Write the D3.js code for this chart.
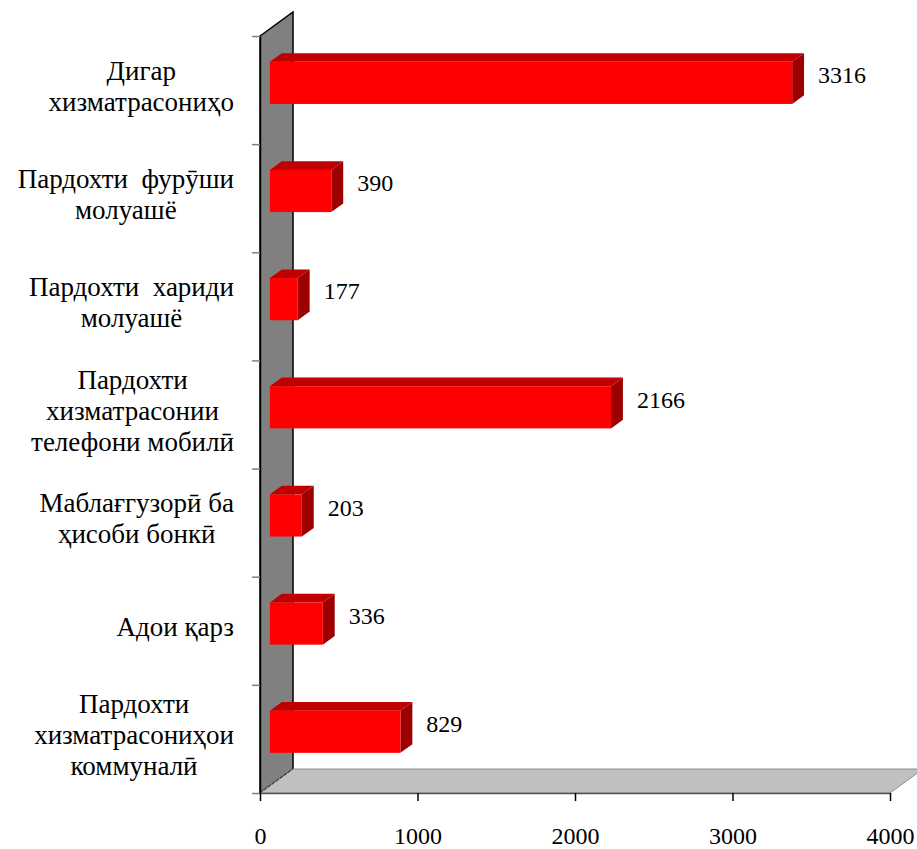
<!DOCTYPE html>
<html>
<head>
<meta charset="utf-8">
<script src="https://cdn.jsdelivr.net/npm/d3@7"></script>
<style>
  body { margin: 0; background: #fff; }
  svg { display: block; }
</style>
</head>
<body>
<div id="chart"></div>
<script>
// categories, top to bottom (each entry = wrapped lines)
const categories = [
  ["Дигар", "хизматрасониҳо"],
  ["Пардохти  фурӯши", "молуашё"],
  ["Пардохти  хариди", "молуашё"],
  ["Пардохти", "хизматрасонии", "телефони мобилӣ"],
  ["Маблағгузорӣ ба", "ҳисоби бонкӣ"],
  ["Адои қарз"],
  ["Пардохти", "хизматрасониҳои", "коммуналӣ"]
];
const values = [3316, 390, 177, 2166, 203, 336, 829];
const xTicks = [0, 1000, 2000, 3000, 4000];

const w = 917, h = 849;
const font = "'Liberation Serif', 'DejaVu Serif', serif";
const depth = { dx: 33, dy: -24 };   // 3d depth of the walls
const front = 0.3, back = 0.66;       // bar position inside the depth

const svg = d3.select("#chart").append("svg")
  .attr("width", w)
  .attr("height", h);

const x = d3.scaleLinear().domain([0, 4000]).range([260, 890]);
const y = d3.scaleBand().domain(d3.range(categories.length)).range([36, 793]);
const yEdges = d3.scaleLinear().domain([0, categories.length]).range([36, 793]);

const yTop = y.range()[0], yBot = y.range()[1];
const x0 = x(0), x1 = x(4000);

// back wall
svg.append("polygon")
  .attr("points", [[x0, yTop], [x0 + depth.dx, yTop + depth.dy], [x0 + depth.dx, yBot + depth.dy], [x0, yBot]].join(" "))
  .attr("fill", "#808080")
  .attr("stroke", "#000")
  .attr("stroke-width", 1.5);

// floor
svg.append("polygon")
  .attr("points", [[x0, yBot], [x0 + depth.dx, yBot + depth.dy], [x1 + depth.dx, yBot + depth.dy], [x1, yBot]].join(" "))
  .attr("fill", "#c0c0c0")
  .attr("stroke", "#8c8c8c")
  .attr("stroke-width", 1);

svg.append("line")
  .attr("x1", x0).attr("y1", yBot)
  .attr("x2", x0 + depth.dx).attr("y2", yBot + depth.dy)
  .attr("stroke", "#333")
  .attr("stroke-dasharray", "3,2");

// bars
const barH = y.bandwidth() * 0.39;
const ddx = depth.dx * (back - front), ddy = depth.dy * (back - front);

const bars = svg.selectAll("g.bar")
  .data(values)
  .enter().append("g")
  .attr("class", "bar");

bars.each(function (d, i) {
  const g = d3.select(this);
  const fx0 = x(0) + depth.dx * front;
  const fx1 = x(d) + depth.dx * front;
  const fy = y(i) + y.bandwidth() / 2 - barH / 2 + depth.dy * front;

  g.append("polygon")
    .attr("points", [[fx0, fy], [fx0 + ddx, fy + ddy], [fx1 + ddx, fy + ddy], [fx1, fy]].join(" "))
    .attr("fill", "#c00000");
  g.append("polygon")
    .attr("points", [[fx1, fy], [fx1 + ddx, fy + ddy], [fx1 + ddx, fy + barH + ddy], [fx1, fy + barH]].join(" "))
    .attr("fill", "#9c0000");
  g.append("rect")
    .attr("x", fx0)
    .attr("y", fy)
    .attr("width", fx1 - fx0)
    .attr("height", barH)
    .attr("fill", "#ff0000");

  g.append("text")
    .attr("x", fx1 + ddx + 14)
    .attr("y", y(i) + y.bandwidth() / 2 - 15)
    .attr("dominant-baseline", "central")
    .attr("font-family", font)
    .attr("font-size", "24px")
    .attr("fill", "#000")
    .text(d);
});

// y axis ticks on the wall edge
const yAxis = d3.axisLeft(yEdges)
  .tickValues(d3.range(categories.length + 1))
  .tickFormat("")
  .tickSize(8)
  .tickSizeOuter(0);

svg.append("g")
  .attr("transform", `translate(${x0}, 0)`)
  .call(yAxis)
  .call(g => g.select(".domain").attr("stroke", "#000").attr("stroke-width", 1.5))
  .call(g => g.selectAll(".tick line").attr("stroke", "#808080").attr("stroke-width", 1.5));

// x axis
const xAxis = d3.axisBottom(x)
  .tickValues(xTicks)
  .tickFormat(d3.format("d"))
  .tickSize(8)
  .tickSizeOuter(0);

svg.append("g")
  .attr("transform", `translate(0, ${yBot})`)
  .call(xAxis)
  .call(g => g.select(".domain").attr("stroke", "#555").attr("stroke-width", 1.5))
  .call(g => g.selectAll(".tick line").attr("stroke", "#000").attr("stroke-width", 1.5))
  .call(g => g.selectAll(".tick text")
    .attr("y", 51)
    .attr("dy", null)
    .attr("font-family", font)
    .attr("font-size", "24px")
    .attr("fill", "#000"));

// category labels: centred lines in a right-aligned block
const labelRight = 234;
const lineH = 31;

categories.forEach((lines, i) => {
  const cy = y(i) + y.bandwidth() / 2 - 4;
  const t = svg.append("text")
    .attr("font-family", font)
    .attr("font-size", "27px")
    .attr("text-anchor", "middle")
    .attr("fill", "#000")
    .style("white-space", "pre");
  const spans = lines.map((s, k) => t.append("tspan")
    .attr("y", cy + (k - (lines.length - 1) / 2) * lineH)
    .attr("dominant-baseline", "central")
    .text(s));
  const maxW = d3.max(spans, s => s.node().getComputedTextLength());
  spans.forEach(s => s.attr("x", labelRight - maxW / 2));
});
</script>
</body>
</html>
